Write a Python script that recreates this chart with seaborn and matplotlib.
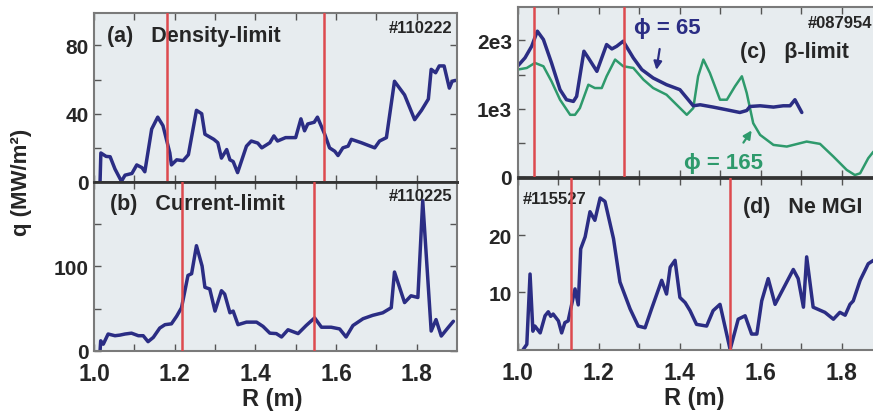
import matplotlib
matplotlib.use("Agg")
import matplotlib.pyplot as plt
import seaborn as sns

# ---------------- data ----------------
x_ticks = [1.0, 1.1, 1.2, 1.3, 1.4, 1.5, 1.6, 1.7, 1.8]
x_ticklabels = ["1.0", "", "1.2", "", "1.4", "", "1.6", "", "1.8"]

# (a) Density-limit, #110222
red_a = [1.182, 1.570]
R_a = [1.015, 1.017, 1.030, 1.040, 1.052, 1.068, 1.077, 1.094, 1.106, 1.119,
       1.126, 1.143, 1.158, 1.171, 1.188, 1.192, 1.205, 1.221, 1.234, 1.254,
       1.267, 1.275, 1.297, 1.307, 1.316, 1.329, 1.337, 1.345, 1.356, 1.378,
       1.390, 1.406, 1.416, 1.436, 1.446, 1.455, 1.475, 1.500, 1.513, 1.522,
       1.530, 1.546, 1.554, 1.572, 1.584, 1.597, 1.605, 1.617, 1.630, 1.638,
       1.663, 1.696, 1.708, 1.725, 1.745, 1.770, 1.795, 1.812, 1.829, 1.836,
       1.847, 1.856, 1.868, 1.881, 1.888, 1.896]
q_a = [0, 17, 15, 14.8, 7.6, 0.4, 4, 5, 10, 8.4,
       6, 31, 38, 33, 17, 10, 13, 12.5, 16, 42,
       40, 28, 25, 23, 14, 19, 13, 12, 5.5, 21,
       24, 22.8, 20, 23, 27, 24, 26, 26, 37, 30,
       34, 35, 38, 28, 20, 18, 15.5, 20, 21, 25,
       23, 20, 24, 26, 59, 51, 36.5, 42, 48.6, 66,
       64, 68, 68, 55, 59, 59.5]
yt_a = [0, 20, 40, 60, 80]
yl_a = ["0", "", "40", "", "80"]

# (b) Current-limit, #110225
red_b = [1.219, 1.545]
R_b = [1.015, 1.0166, 1.023, 1.035, 1.052, 1.064, 1.077, 1.093, 1.110, 1.122,
       1.134, 1.147, 1.163, 1.176, 1.192, 1.205, 1.217, 1.233, 1.242, 1.254,
       1.268, 1.275, 1.287, 1.300, 1.316, 1.324, 1.337, 1.345, 1.357, 1.378,
       1.403, 1.419, 1.436, 1.452, 1.465, 1.481, 1.506, 1.526, 1.547, 1.564,
       1.588, 1.609, 1.625, 1.642, 1.667, 1.691, 1.716, 1.737, 1.745, 1.770,
       1.786, 1.803, 1.815, 1.836, 1.848, 1.861, 1.877, 1.891]
q_b = [0, 12, 8, 20, 18, 18.7, 20, 21, 18, 18,
       11, 16, 27, 31, 32, 41, 51, 89, 91, 124,
       100, 75, 73, 47, 71, 67, 45, 47, 31, 34,
       34, 29, 21, 20.5, 16.5, 25, 20.5, 30, 39, 28,
       28, 26, 16.5, 30, 38, 42, 45, 51, 93, 57,
       65, 63, 177, 23.5, 37, 17.6, 27, 35]
yt_b = [0, 50, 100, 150]
yl_b = ["0", "", "100", ""]

# (c) beta-limit, #087954
red_c = [1.040, 1.262]
R_c65 = [1.000, 1.0185, 1.035, 1.049, 1.064, 1.084, 1.105, 1.121, 1.138, 1.146,
         1.164, 1.175, 1.196, 1.220, 1.233, 1.245, 1.261, 1.286, 1.307, 1.335,
         1.368, 1.401, 1.434, 1.451, 1.483, 1.517, 1.549, 1.566, 1.574, 1.599,
         1.632, 1.656, 1.673, 1.685, 1.702]
q_c65 = [1622, 1745, 1915, 2136, 2013, 1671, 1279, 1132, 1107, 1181,
         1842, 1744, 1548, 1940, 1876, 1915, 1989, 1744, 1573, 1450,
         1352, 1279, 1043, 1058, 1024, 984, 945, 974, 1033, 1043,
         1024, 1043, 1043, 1132, 945]
R_c165 = [1.000, 1.023, 1.043, 1.064, 1.084, 1.105, 1.130, 1.142, 1.154, 1.175,
          1.191, 1.208, 1.220, 1.241, 1.261, 1.286, 1.311, 1.335, 1.368, 1.393,
          1.418, 1.434, 1.446, 1.459, 1.475, 1.500, 1.517, 1.537, 1.554, 1.566,
          1.582, 1.599, 1.632, 1.665, 1.714, 1.747, 1.780, 1.813, 1.833, 1.846,
          1.866, 1.879]
q_c165 = [1573, 1597, 1671, 1622, 1401, 1132, 911, 911, 1009, 1352,
          1303, 1303, 1475, 1720, 1622, 1597, 1426, 1303, 1205, 1058,
          911, 1009, 1475, 1720, 1524, 1132, 1132, 1328, 1475, 1230,
          788, 617, 470, 446, 519, 485, 299, 103, 29, 54,
          275, 372]
yt_c = [0, 500, 1000, 1500, 2000]
yl_c = ["0", "", "1e3", "", "2e3"]

# (d) Ne MGI, #115527
red_d = [1.132, 1.525]
R_d = [1.014, 1.023, 1.031, 1.038, 1.043, 1.056, 1.068, 1.076, 1.082, 1.088,
       1.101, 1.109, 1.117, 1.125, 1.142, 1.150, 1.156, 1.167, 1.179, 1.191,
       1.204, 1.216, 1.237, 1.253, 1.278, 1.298, 1.315, 1.331, 1.356, 1.368,
       1.377, 1.389, 1.401, 1.414, 1.426, 1.442, 1.467, 1.483, 1.500, 1.525,
       1.545, 1.562, 1.578, 1.591, 1.603, 1.619, 1.636, 1.681, 1.693, 1.706,
       1.714, 1.730, 1.759, 1.780, 1.796, 1.809, 1.821, 1.829, 1.846, 1.866,
       1.879]
q_d = [0, 0.9, 13.2, 3.2, 4.1, 2.9, 5.9, 6.6, 5.8, 6.2,
       5, 2.9, 4.7, 5, 10.6, 7.8, 17.6, 19.7, 24.1, 22.6,
       26.5, 25.9, 19.4, 11.8, 7.1, 4.1, 3.8, 7.1, 12.1, 9.7,
       14.4, 15.6, 9.1, 8.2, 6.8, 4.4, 4.1, 6.8, 7.9, 0,
       5.3, 5.9, 2.7, 2.7, 8.5, 12.4, 7.9, 14, 12.4, 7.4,
       16.2, 7.4, 6.5, 5.3, 6.5, 6, 7.9, 8.5, 12.1, 15,
       15.6]
yt_d = [10, 20]
yl_d = ["10", "20"]

# ---------------- style ----------------
sns.set_theme(style="ticks")
plt.rcParams['font.family'] = ['Liberation Sans', 'DejaVu Sans']
plt.rcParams['font.weight'] = 'bold'

NAVY = '#2b2d84'
GREEN = '#2e9a6c'
RED = '#dd4a4e'
BG = '#e7ecef'
OUTER = '#7a7a7a'
INNER = '#333333'
TITLE_FS = 15.5

W, H = 873, 414
fig = plt.figure(figsize=(W / 100, H / 100), dpi=100)


def add_ax(l, t, r, b):
    return fig.add_axes([l / W, 1 - b / H, (r - l) / W, (b - t) / H])


ax_a = add_ax(94, 14, 457, 183)
ax_b = add_ax(94, 183, 457, 352)
ax_c = add_ax(517.5, 8, 882, 178)
ax_d = add_ax(517.5, 179, 882, 350.5)


def style(ax, ylim, yt, yl, show_x):
    ax.set_facecolor(BG)
    ax.set_xlim(1.0, 1.9)
    ax.set_ylim(*ylim)
    ax.set_xticks(x_ticks)
    ax.set_xticklabels(x_ticklabels if show_x else [""] * len(x_ticks))
    ax.set_yticks(yt)
    ax.set_yticklabels(yl)
    ax.tick_params(direction='in', length=5, width=1, color='#555555',
                   top=True, right=True, labelsize=15, pad=4)
    ax.tick_params(axis='x', labelsize=16.5, pad=8)
    for s in ax.spines.values():
        s.set_color(OUTER)
        s.set_linewidth(1.5)
    for lab in ax.get_xticklabels() + ax.get_yticklabels():
        lab.set_fontweight('bold')


def draw(ax, R, q, color, lw):
    sns.lineplot(x=R, y=q, ax=ax, color=color, lw=lw, sort=False,
                 estimator=None, legend=False, zorder=2)


def reds(ax, xs):
    for r in xs:
        ax.axvline(r, color=RED, lw=1.8, zorder=5)


# (a)
draw(ax_a, R_a, q_a, NAVY, 2.5)
reds(ax_a, red_a)
style(ax_a, (0, 99), yt_a, yl_a, False)
ax_a.text(0.036, 0.864, '(a)   Density-limit', transform=ax_a.transAxes,
          fontsize=TITLE_FS, ha='left', va='center', zorder=3)
ax_a.text(0.988, 0.917, '#110222', transform=ax_a.transAxes,
          fontsize=12, ha='right', va='center')

# (b)
draw(ax_b, R_b, q_b, NAVY, 2.5)
reds(ax_b, red_b)
style(ax_b, (0, 199), yt_b, yl_b, True)
ax_b.text(0.044, 0.87, '(b)   Current-limit', transform=ax_b.transAxes,
          fontsize=TITLE_FS, ha='left', va='center', zorder=3)
ax_b.text(0.986, 0.919, '#110225', transform=ax_b.transAxes,
          fontsize=12, ha='right', va='center')
ax_b.set_xlabel('R (m)', fontsize=17, fontweight='bold')
ax_b.xaxis.set_label_coords(0.49, -0.215)

# (c)
draw(ax_c, R_c165, q_c165, GREEN, 1.8)
draw(ax_c, R_c65, q_c65, NAVY, 2.5)
reds(ax_c, red_c)
style(ax_c, (0, 2490), yt_c, yl_c, False)
ax_c.text(1.549, 1842, '(c)   β-limit', fontsize=TITLE_FS, ha='left', va='center')
ax_c.text(1.717, 2260, '#087954', fontsize=12, ha='left', va='center')
ax_c.text(1.369, 2186, 'ϕ = 65', color=NAVY, fontsize=16, ha='center', va='center')
ax_c.text(1.509, 206, 'ϕ = 165', color=GREEN, fontsize=16, ha='center', va='center')
ax_c.annotate('', xy=(1.342, 1529), xytext=(1.352, 1915),
              arrowprops=dict(arrowstyle='-|>', color=NAVY, lw=1.6, mutation_scale=12))
ax_c.annotate('', xy=(1.582, 716), xytext=(1.554, 470),
              arrowprops=dict(arrowstyle='-|>', color=GREEN, lw=1.6, mutation_scale=12))

# (d)
draw(ax_d, R_d, q_d, NAVY, 2.5)
reds(ax_d, red_d)
style(ax_d, (0, 30), yt_d, yl_d, True)
ax_d.text(0.015, 0.878, '#115527', transform=ax_d.transAxes,
          fontsize=12, ha='left', va='center', zorder=3)
ax_d.text(0.619, 0.831, '(d)   Ne MGI', transform=ax_d.transAxes,
          fontsize=TITLE_FS, ha='left', va='center')
ax_d.set_xlabel('R (m)', fontsize=17, fontweight='bold')
ax_d.xaxis.set_label_coords(0.486, -0.21)

# inner separators
for ax, side in [(ax_a, 'bottom'), (ax_b, 'top'), (ax_c, 'bottom'), (ax_d, 'top')]:
    ax.spines[side].set_color(INNER)
    ax.spines[side].set_linewidth(2)

for ax in (ax_a, ax_b, ax_c, ax_d):
    ax.set_ylabel('')

fig.text(22 / W, 1 - 182 / H, 'q (MW/m²)', rotation=90, fontsize=16,
         fontweight='bold', ha='center', va='center')

fig.savefig('out.png', dpi=100)
